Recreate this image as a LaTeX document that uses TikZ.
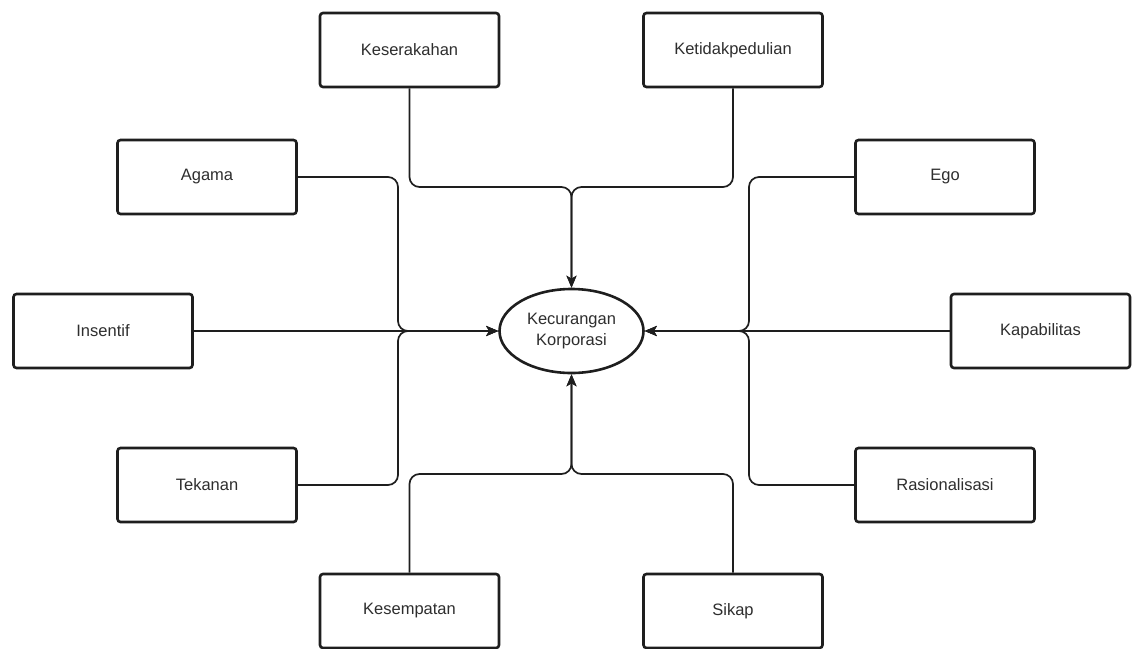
\documentclass[tikz,border=0pt]{standalone}
\usepackage{fontspec}
\setmainfont{Liberation Sans}
\usetikzlibrary{arrows.meta,shapes.geometric}
\definecolor{txt}{HTML}{2E2E2E}
\definecolor{ln}{HTML}{1E1E1E}
\tikzset{
  box/.style={draw=ln, line width=2.6pt, rounded corners=3pt, minimum width=179pt, minimum height=74pt, inner sep=0pt, text=txt, font=\fontsize{16.5}{21}\selectfont, fill=white},
  oval/.style={ellipse, draw=ln, line width=2.6pt, minimum width=144pt, minimum height=84pt, inner sep=0pt, text=txt, font=\fontsize{16.5}{21}\selectfont, align=center},
  conn/.style={draw=ln, line width=1.7pt, rounded corners=10pt},
  arr/.style={conn, -{Stealth[length=12pt,width=10pt,inset=3pt]}}
}
\begin{document}
\begin{tikzpicture}[x=1pt,y=-1pt]
\useasboundingbox[fill=white] (0,0) rectangle (1132,648);
\node[oval] (kc) at (571.5,331) {Kecurangan\\Korporasi};
\node[box] (kes) at (409.5,50) {Keserakahan};
\node[box] (ket) at (733,50) {Ketidakpedulian};
\node[box] (aga) at (207,177) {Agama};
\node[box] (ego) at (945,177) {Ego};
\node[box] (ins) at (103,331) {Insentif};
\node[box] (kap) at (1040.5,331) {Kapabilitas};
\node[box] (tek) at (207,485) {Tekanan};
\node[box] (ras) at (945,485) {Rasionalisasi};
\node[box] (ksm) at (409.5,611) {Kesempatan};
\node[box] (sik) at (733,611) {Sikap};
\coordinate (tj) at (571.5,187);
\coordinate (bj) at (571.5,474);
\coordinate (lj) at (398,331);
\coordinate (rj) at (749,331);
% top
\draw[arr] (kes.south) |- (tj) -- (kc.north);
\draw[arr] (ket.south) |- (tj) -- (kc.north);
% bottom
\draw[arr] (ksm.north) |- (bj) -- (kc.south);
\draw[arr] (sik.north) |- (bj) -- (kc.south);
% left
\draw[arr] (aga.east) -| (lj) -- (kc.west);
\draw[arr] (tek.east) -| (lj) -- (kc.west);
\draw[arr] (ins.east) -- (kc.west);
% right
\draw[arr] (ego.west) -| (rj) -- (kc.east);
\draw[arr] (ras.west) -| (rj) -- (kc.east);
\draw[arr] (kap.west) -- (kc.east);
\end{tikzpicture}
\end{document}
